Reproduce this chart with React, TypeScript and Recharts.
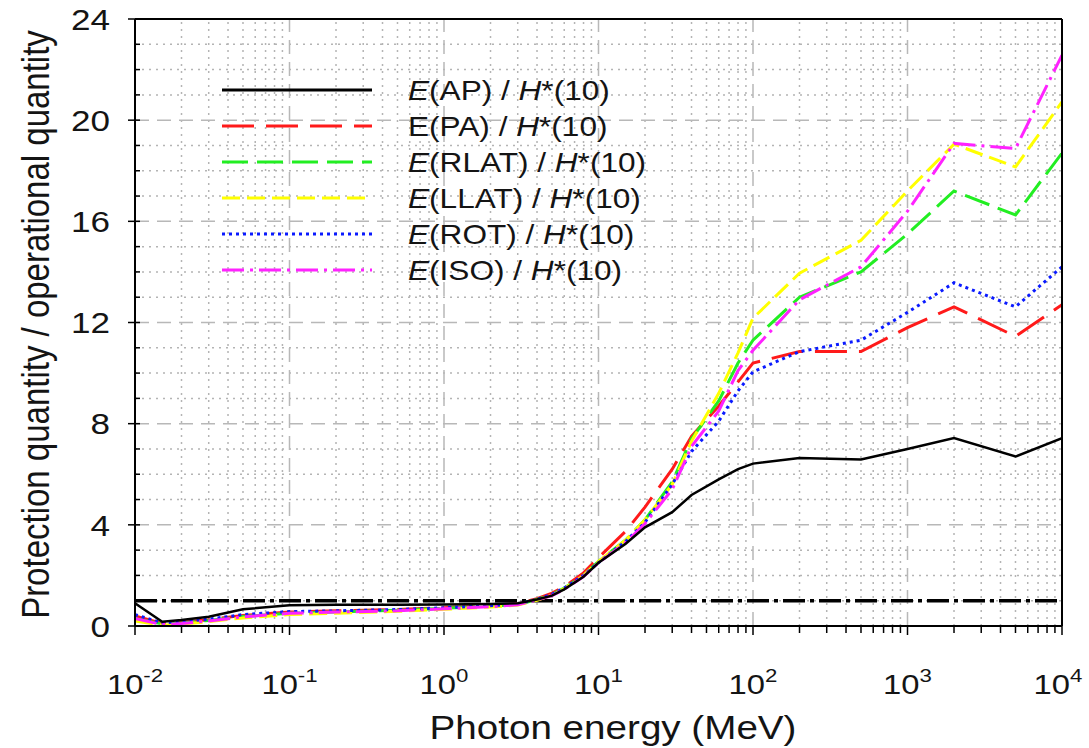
import React from 'react';
import { LineChart, Line, XAxis, YAxis, ReferenceLine, Legend } from 'recharts';

// Photon energy (MeV)
const energies = [0.01, 0.015, 0.02, 0.03, 0.05, 0.1, 0.2, 0.5, 1, 2, 3, 4, 5, 6, 8, 10, 15, 20, 30, 40, 60, 80, 100, 200, 500, 1000, 2000, 5000, 10000];

const apValues = [0.9, 0.17, 0.24, 0.37, 0.66, 0.82, 0.84, 0.84, 0.85, 0.87, 0.9, 1.05, 1.2, 1.45, 1.95, 2.5, 3.25, 3.9, 4.5, 5.18, 5.8, 6.2, 6.42, 6.64, 6.58, 7.0, 7.43, 6.7, 7.43];
const paValues = [0.4, 0.1, 0.15, 0.25, 0.42, 0.55, 0.6, 0.65, 0.72, 0.8, 0.88, 1.08, 1.3, 1.55, 2.1, 2.7, 3.75, 4.7, 6.2, 7.5, 8.7, 9.65, 10.4, 10.85, 10.85, 11.8, 12.62, 11.45, 12.7];
const rlatValues = [0.3, 0.08, 0.12, 0.22, 0.38, 0.5, 0.55, 0.62, 0.7, 0.78, 0.85, 1.05, 1.25, 1.5, 2.0, 2.55, 3.4, 4.2, 5.7, 7.4, 8.9, 10.4, 11.3, 13.0, 14.0, 15.5, 17.2, 16.25, 18.7];
const llatValues = [0.2, 0.03, 0.08, 0.17, 0.32, 0.45, 0.5, 0.58, 0.66, 0.75, 0.83, 1.02, 1.22, 1.48, 2.0, 2.55, 3.4, 4.2, 5.6, 7.3, 9.2, 10.8, 12.17, 13.95, 15.25, 17.2, 19.05, 18.15, 20.72];
const rotValues = [0.45, 0.12, 0.17, 0.27, 0.45, 0.57, 0.6, 0.65, 0.72, 0.8, 0.87, 1.05, 1.25, 1.5, 2.0, 2.5, 3.35, 4.1, 5.6, 6.9, 8.1, 9.3, 10.05, 10.85, 11.3, 12.4, 13.57, 12.62, 14.2];
const isoValues = [0.3, 0.05, 0.1, 0.2, 0.36, 0.5, 0.55, 0.6, 0.68, 0.76, 0.84, 1.03, 1.2, 1.45, 1.95, 2.5, 3.3, 4.05, 5.4, 7.1, 8.5, 10.1, 10.9, 12.9, 14.2, 16.4, 19.08, 18.88, 22.57];

const xMajorTicks = [0.01, 0.1, 1, 10, 100, 1000, 10000];
const xTickExponents = ['-2', '-1', '0', '1', '2', '3', '4'];
const minorMultipliers = [2, 3, 4, 5, 6, 7, 8, 9];
const xMinorTicks = xMajorTicks.slice(0, -1).flatMap((d) => minorMultipliers.map((m) => m * d));
const xAllTicks = [...xMajorTicks, ...xMinorTicks].sort((a, b) => a - b);

const yTicks = [0, 1, 2, 3, 4, 5, 6, 7, 8, 9, 10, 11, 12, 13, 14, 15, 16, 17, 18, 19, 20, 21, 22, 23, 24];
const yMajorTicks = [0, 4, 8, 12, 16, 20, 24];

const data = energies.map((e, i) => ({
  e,
  ap: apValues[i],
  pa: paValues[i],
  rlat: rlatValues[i],
  llat: llatValues[i],
  rot: rotValues[i],
  iso: isoValues[i],
}));

const FONT = '"Liberation Sans", Arial, sans-serif';
const SX = 1.17;
const TEXT = '#141414';

const series = [
  { key: 'ap', name: 'AP', italicE: true, color: '#000000', dash: undefined as string | undefined, width: 2.5 },
  { key: 'pa', name: 'PA', italicE: false, color: '#ff1a1a', dash: '32 12', width: 3 },
  { key: 'rlat', name: 'RLAT', italicE: true, color: '#22ee22', dash: '26 9', width: 3 },
  { key: 'llat', name: 'LLAT', italicE: true, color: '#ffff00', dash: '18 7', width: 3 },
  { key: 'rot', name: 'ROT', italicE: true, color: '#0a1aff', dash: '3 4', width: 3 },
  { key: 'iso', name: 'ISO', italicE: true, color: '#ff22ff', dash: '22 6 3 6', width: 3 },
];
const drawOrder = ['pa', 'rlat', 'llat', 'rot', 'iso', 'ap'];

const renderXTick = (props: any) => {
  const { x, y, payload } = props;
  const v = payload.value;
  const idx = xMajorTicks.findIndex((m) => Math.abs(Math.log10(v) - Math.log10(m)) < 1e-6);
  const major = idx >= 0;
  const shift = idx === xMajorTicks.length - 1 ? -4 : 0;
  return (
    <g>
      <line x1={x} x2={x} y1={y} y2={y + (major ? 9 : 7)} stroke="#000" strokeWidth={1.5} />
      {major && (
        <g transform={`translate(${x + shift},${y + 68}) scale(${SX},1)`}>
          <text x={0} y={0} textAnchor="middle" fontFamily={FONT} fontSize={28} fill={TEXT}>
            <tspan>10</tspan>
            <tspan dy={-12} fontSize={19}>{xTickExponents[idx]}</tspan>
          </text>
        </g>
      )}
    </g>
  );
};

const renderYTick = (props: any) => {
  const { x, y, payload } = props;
  const v = payload.value;
  const major = yMajorTicks.includes(v);
  return (
    <g>
      {major && <line x1={x - 7} x2={x} y1={y} y2={y} stroke="#000" strokeWidth={1.5} />}
      <line x1={x} x2={x + 5} y1={y} y2={y} stroke="#000" strokeWidth={1.5} />
      {major && (
        <g transform={`translate(${x - 25},${y}) scale(${SX},1)`}>
          <text x={0} y={0} dy="0.36em" textAnchor="end" fontFamily={FONT} fontSize={30} fill={TEXT}>
            {v}
          </text>
        </g>
      )}
    </g>
  );
};

const renderRightTick = (props: any) => {
  const { x, y } = props;
  return <line x1={x - 6} x2={x} y1={y} y2={y} stroke="#000" strokeWidth={1.5} />;
};

const renderLegend = () => {
  const rowGap = 36;
  return (
    <svg width={460} height={230} style={{ overflow: 'visible' }}>
      {series.map((s, i) => {
        const cy = 22 + i * rowGap;
        return (
          <g key={s.key}>
            <line x1={14} x2={164} y1={cy} y2={cy} stroke={s.color} strokeWidth={3} strokeDasharray={s.dash} />
            <g transform={`translate(200,${cy}) scale(${SX},1)`}>
              <text x={0} y={0} dy="0.36em" fontFamily={FONT} fontSize={27} fill={TEXT}>
                <tspan fontStyle={s.italicE ? 'italic' : 'normal'}>E</tspan>
                <tspan>{`(${s.name}) / `}</tspan>
                <tspan fontStyle="italic">H</tspan>
                <tspan>*(10)</tspan>
              </text>
            </g>
          </g>
        );
      })}
    </svg>
  );
};

const gridMinorStroke = '#b4b4b4';
const gridMajorStroke = '#b8b8b8';

export default function App() {
  return (
    <div style={{ position: 'absolute', left: 0, top: 0, width: 1089, height: 748, background: '#fff' }}>
      <LineChart
        width={1089}
        height={748}
        data={data}
        margin={{ top: 19, right: 7, bottom: 0, left: 0 }}
      >
        {yTicks
          .filter((t) => t > 0 && t < 24 && !yMajorTicks.includes(t))
          .map((t) => (
            <ReferenceLine key={`hm${t}`} y={t} stroke={gridMinorStroke} strokeWidth={1.5} strokeDasharray="2 5" zIndex={-50} />
          ))}
        {xMinorTicks.map((t) => (
          <ReferenceLine key={`vm${t}`} x={t} stroke={gridMinorStroke} strokeWidth={1.5} strokeDasharray="2 5" zIndex={-50} />
        ))}
        {yMajorTicks
          .filter((t) => t > 0 && t < 24)
          .map((t) => (
            <ReferenceLine key={`hM${t}`} y={t} stroke={gridMajorStroke} strokeWidth={1.5} strokeDasharray="14 8" zIndex={-50} />
          ))}
        {xMajorTicks
          .filter((t) => t > 0.01 && t < 10000)
          .map((t) => (
            <ReferenceLine key={`vM${t}`} x={t} stroke={gridMajorStroke} strokeWidth={1.5} strokeDasharray="14 8" zIndex={-50} />
          ))}
        <ReferenceLine y={24} stroke="#000" strokeWidth={2} />
        <ReferenceLine y={1} stroke="#000" strokeWidth={3.5} strokeDasharray="22 5 4 5" />

        <XAxis
          dataKey="e"
          type="number"
          scale="log"
          domain={[0.01, 10000]}
          allowDataOverflow
          ticks={xAllTicks}
          interval={0}
          tickLine={false}
          tickSize={0}
          tickMargin={0}
          tick={renderXTick}
          height={122}
          axisLine={{ stroke: '#000', strokeWidth: 2 }}
          label={{
            content: () => (
              <g transform={`translate(613,739) scale(${SX},1)`}>
                <text x={0} y={0} textAnchor="middle" fontFamily={FONT} fontSize={33} fill={TEXT}>
                  Photon energy (MeV)
                </text>
              </g>
            ),
          }}
        />
        <YAxis
          type="number"
          domain={[0, 24]}
          ticks={yTicks}
          interval={0}
          allowDataOverflow
          tickLine={false}
          tickSize={0}
          tickMargin={0}
          tick={renderYTick}
          width={135}
          axisLine={{ stroke: '#000', strokeWidth: 2 }}
          label={{
            content: (p: any) => {
              const vb = p.viewBox || { x: 0, y: 19, width: 135, height: 607 };
              const cy = vb.y + vb.height / 2 + 2;
              return (
                <g transform={`translate(35,${cy}) scale(${SX},1) rotate(-90)`}>
                  <text x={0} y={0} dy="0.36em" textAnchor="middle" fontFamily={FONT} fontSize={33} fill={TEXT}>
                    Protection quantity / operational quantity
                  </text>
                </g>
              );
            },
          }}
        />
        <YAxis
          yAxisId="right"
          orientation="right"
          type="number"
          domain={[0, 24]}
          ticks={yTicks}
          interval={0}
          tickLine={false}
          tickSize={0}
          tickMargin={0}
          tick={renderRightTick}
          width={20}
          axisLine={{ stroke: '#000', strokeWidth: 2 }}
        />

        {drawOrder.map((k) => {
          const s = series.find((q) => q.key === k)!;
          return (
            <Line
              key={k}
              type="linear"
              dataKey={k}
              stroke={s.color}
              strokeWidth={s.width}
              strokeDasharray={s.dash}
              dot={false}
              activeDot={false}
              isAnimationActive={false}
            />
          );
        })}

        <Legend
          layout="vertical"
          align="center"
          verticalAlign="middle"
          content={renderLegend}
          wrapperStyle={{ position: 'absolute', left: 208, top: 68, width: 460, height: 230 }}
        />
      </LineChart>
    </div>
  );
}
